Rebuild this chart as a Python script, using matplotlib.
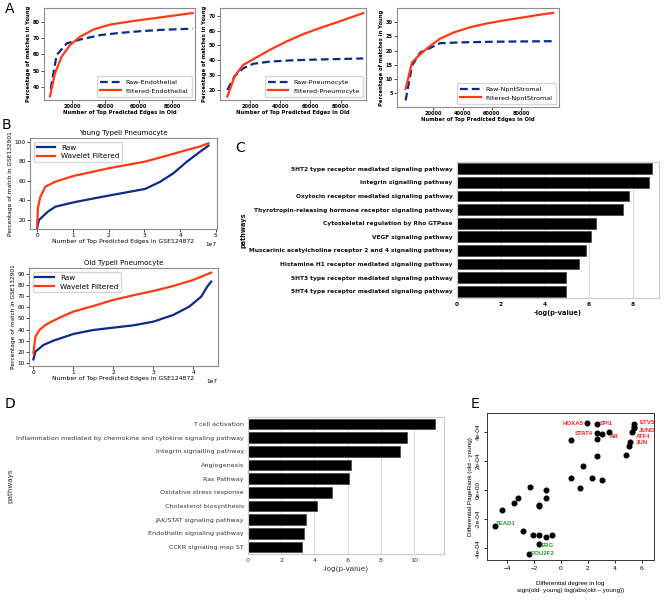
import matplotlib
matplotlib.use('Agg')
import matplotlib.pyplot as plt

# ---------- data ----------
# A: percentage of matches in young vs number of top predicted edges in old
endo_raw_x = [7200, 10800, 16800, 24800, 36800, 48800, 60800, 72800, 92400]
endo_raw_y = [38.8, 59.7, 66.8, 69.2, 71.9, 73.3, 74.3, 75.1, 75.9]
endo_filt_x = [6800, 9800, 13800, 18800, 24800, 32800, 42800, 56800, 72800, 92400]
endo_filt_y = [34.3, 48.5, 58.7, 65.8, 70.9, 75.3, 78.4, 80.6, 82.8, 85.5]

pneu_raw_x = [5000, 10000, 15600, 22200, 33200, 48700, 66300, 95000]
pneu_raw_y = [20.0, 29.5, 34.6, 37.6, 39.1, 40.0, 40.5, 41.2]
pneu_filt_x = [5000, 10000, 15600, 22200, 33200, 44300, 55300, 66300, 77400, 95000]
pneu_filt_y = [15.5, 29.5, 36.9, 40.7, 47.0, 52.7, 57.6, 61.7, 65.5, 71.8]

strom_raw_x = [900, 5300, 10900, 17700, 24500, 40000, 60000, 80000, 102000]
strom_raw_y = [2.4, 14.7, 19.3, 20.9, 22.6, 22.9, 23.1, 23.2, 23.3]
strom_filt_x = [900, 5300, 10900, 17700, 24500, 33500, 45000, 56000, 68000, 79000, 90000, 102000]
strom_filt_y = [6.5, 15.8, 18.7, 21.6, 24.2, 26.3, 28.2, 29.5, 30.6, 31.5, 32.4, 33.3]

# B: percentage of match in GSE132901 (x in units of 1e7 edges)
young_raw_x = [0, 0.05, 0.3, 0.51, 1.02, 1.58, 2.0, 2.51, 3.02, 3.44, 3.81, 4.19, 4.56, 4.79]
young_raw_y = [12, 20, 28.5, 33.6, 38, 42, 44.9, 48.3, 51.7, 59, 67.7, 79.6, 89.8, 95.9]
young_filt_x = [0, 0.02, 0.09, 0.23, 0.51, 1.02, 1.58, 2.0, 2.51, 3.02, 3.63, 4.19, 4.51, 4.79]
young_filt_y = [13, 32, 43.8, 54, 59.1, 65, 69.4, 72.8, 76.2, 79.6, 85.7, 91.5, 94.5, 98.3]

old_raw_x = [0, 0.05, 0.25, 0.5, 1.0, 1.5, 2.0, 2.5, 3.0, 3.5, 3.9, 4.2, 4.35, 4.45]
old_raw_y = [13, 20, 26, 29.9, 36, 39.6, 41.7, 43.8, 47.1, 53.2, 60.7, 69.8, 78.8, 83.4]
old_filt_x = [0, 0.05, 0.15, 0.3, 0.5, 0.75, 1.0, 1.5, 2.0, 2.5, 3.0, 3.5, 4.0, 4.45]
old_filt_y = [18.5, 33.5, 39.6, 44.1, 48, 52.3, 56.2, 61.3, 66.8, 71, 74.9, 79.4, 84.9, 91.5]

# C: pathways (top to bottom)
c_paths = ['5HT2 type receptor mediated signaling pathway',
           'Integrin signalling pathway',
           'Oxytocin receptor mediated signaling pathway',
           'Thyrotropin-releasing hormone receptor signaling pathway',
           'Cytoskeletal regulation by Rho GTPase',
           'VEGF signaling pathway',
           'Muscarinic acetylcholine receptor 2 and 4 signaling pathway',
           'Histamine H1 receptor mediated signaling pathway',
           '5HT3 type receptor mediated signaling pathway',
           '5HT4 type receptor mediated signaling pathway']
c_vals = [8.9, 8.74, 7.83, 7.56, 6.32, 6.09, 5.89, 5.56, 4.98, 4.98]

# D: pathways (top to bottom)
d_paths = ['T cell activation',
           'Inflammation mediated by chemokine and cytokine signaling pathway',
           'Integrin signalling pathway',
           'Angiogenesis',
           'Ras Pathway',
           'Oxidative stress response',
           'Cholesterol biosynthesis',
           'JAK/STAT signaling pathway',
           'Endothelin signaling pathway',
           'CCKR signaling map ST']
d_vals = [11.26, 9.6, 9.16, 6.19, 6.1, 5.08, 4.18, 3.48, 3.4, 3.28]

# E: differential degree vs differential PageRank
e_deg = [-4.89, -4.35, -3.46, -3.21, -2.27, -1.60, -1.60, -1.09, -1.09, -2.79,
         -2.10, -1.60, -1.09, -0.69, -1.60, -2.40, 0.72, 0.72, 1.63, 1.41,
         2.32, 3.01, 1.95, 2.64, 2.67, 3.01, 2.64, 2.64, 3.58, 4.81,
         5.06, 5.14, 5.26, 5.43, 5.43, 5.43]
e_pr = [-2.47, -1.37, -0.91, -0.53, 0.23, -1.03, -1.10, 0.0, -0.55, -2.81,
        -3.09, -3.09, -3.20, -3.09, -3.70, -4.41, 3.45, 0.80, 1.67, 0.16,
        0.85, 0.69, 4.62, 4.53, 3.89, 3.82, 3.52, 2.33, 4.00, 2.38,
        3.04, 3.31, 3.95, 4.53, 4.34, 4.27]  # x 1e-4
e_red_names = ['HOXA5', 'SPI1', 'STAT4', 'AR', 'ETV5', 'JUND', 'ATF4', 'JUN']
e_red_x = [1.65, 2.89, 2.40, 3.63, 5.80, 5.80, 5.56, 5.56]
e_red_y = [4.55, 4.55, 3.89, 3.66, 4.62, 4.11, 3.66, 3.25]
e_red_ha = ['right', 'left', 'right', 'left', 'left', 'left', 'left', 'left']
e_green_names = ['TEAD1', 'ERG', 'POU2F2']
e_green_x = [-4.84, -1.51, -2.22]
e_green_y = [-2.29, -3.82, -4.34]

navy = '#0c2a8c'
red = '#ff3a12'

W, H = 666, 601
fig = plt.figure(figsize=(W / 100, H / 100), dpi=100)


def box(l, t, r, b):
    return fig.add_axes([l / W, 1 - b / H, (r - l) / W, (b - t) / H])


def frame(ax, color='#8c8c8c'):
    for s in ax.spines.values():
        s.set_color(color)
        s.set_linewidth(0.8)


# ---------- A ----------
a_sets = [
    ((44, 8, 195, 100), endo_raw_x, endo_raw_y, endo_filt_x, endo_filt_y,
     'Endothelial', (3200, 93800), (32, 88.6), [40, 50, 60, 70, 80]),
    ((220, 8, 366, 100), pneu_raw_x, pneu_raw_y, pneu_filt_x, pneu_filt_y,
     'Pneumocyte', (150, 96800), (13.2, 75.2), [20, 30, 40, 50, 60, 70]),
    ((397, 8, 559, 107), strom_raw_x, strom_raw_y, strom_filt_x, strom_filt_y,
     'NpntStromal', (-5000, 106000), (0.1, 35), [5, 10, 15, 20, 25, 30]),
]
for pos, rx, ry, fx, fy, name, xl, yl, yt in a_sets:
    ax = box(*pos)
    ax.plot(rx, ry, color=navy, lw=1.6, ls=(0, (3.5, 1.8)), label='Raw-' + name)
    ax.plot(fx, fy, color=red, lw=1.6, label='Filtered-' + name)
    ax.set_xlim(*xl)
    ax.set_ylim(*yl)
    ax.set_xticks([20000, 40000, 60000, 80000])
    ax.set_yticks(yt)
    ax.tick_params(labelsize=3.6, length=2, width=0.5, pad=1)
    for t in ax.get_xticklabels() + ax.get_yticklabels():
        t.set_fontweight('bold')
    ax.set_xlabel('Number of Top Predicted Edges in Old', fontsize=3.8,
                  fontweight='bold', labelpad=0.5)
    ax.set_ylabel('Percentage of matches in Young', fontsize=3.8,
                  fontweight='bold', labelpad=1)
    ax.legend(loc='lower right', fontsize=4.6, handlelength=3.2,
              borderpad=0.5, labelspacing=0.5, frameon=True, fancybox=True,
              edgecolor='#cccccc')
    frame(ax)

# ---------- B ----------
b_sets = [
    ((30, 138, 217, 229), young_raw_x, young_raw_y, young_filt_x, young_filt_y,
     'Young TypeII Pneumocyte', (-0.2e7, 5.03e7), (10.8, 103.7),
     [20, 40, 60, 80, 100], [0, 1e7, 2e7, 3e7, 4e7, 5e7]),
    ((29, 268, 218, 366), old_raw_x, old_raw_y, old_filt_x, old_filt_y,
     'Old TypeII Pneumocyte', (-0.11e7, 4.62e7), (7, 95.7),
     [10, 20, 30, 40, 50, 60, 70, 80, 90], [0, 1e7, 2e7, 3e7, 4e7]),
]
for pos, rx, ry, fx, fy, title, xl, yl, yt, xt in b_sets:
    ax = box(*pos)
    ax.plot([v * 1e7 for v in rx], ry, color=navy, lw=1.6, label='Raw')
    ax.plot([v * 1e7 for v in fx], fy, color=red, lw=1.6, label='Wavelet Filtered')
    ax.set_xlim(*xl)
    ax.set_ylim(*yl)
    ax.set_xticks(xt)
    ax.set_yticks(yt)
    ax.tick_params(labelsize=4.2, length=2, width=0.5, pad=1)
    ax.xaxis.get_offset_text().set_fontsize(4.2)
    ax.set_title(title, fontsize=5, pad=2)
    ax.set_xlabel('Number of Top Predicted Edges in GSE124872', fontsize=4.4, labelpad=0.5)
    ax.set_ylabel('Percentage of match in GSE132901', fontsize=4.2, labelpad=1)
    ax.legend(loc='upper left', fontsize=5.2, handlelength=2.6,
              borderpad=0.4, labelspacing=0.4, edgecolor='#cccccc')
    frame(ax)


# ---------- C / D ----------
def pathway_panel(pos, names, vals, xmax, xt, weight, color, size):
    ax = box(*pos)
    ypos = list(range(len(names)))
    ax.barh(ypos, vals, height=0.78, color='black', edgecolor='#444444', lw=0.5)
    ax.set_yticks(ypos)
    ax.set_yticklabels(names, fontsize=size, fontweight=weight, color=color)
    ax.set_ylim(len(names) - 0.5, -0.5)
    ax.set_xlim(0, xmax)
    ax.set_xticks(xt)
    ax.tick_params(length=0, pad=3, labelsize=size, labelcolor=color)
    ax.grid(axis='x', color='#dddddd', lw=0.8)
    ax.set_axisbelow(True)
    ax.set_xlabel('-log(p-value)', fontsize=size + 0.6, color=color, labelpad=2)
    ax.set_ylabel('pathways', fontsize=size + 0.6, color=color, labelpad=2)
    for s in ax.spines.values():
        s.set_color('#cccccc')
        s.set_linewidth(0.9)
    return ax


ax_c = pathway_panel((457, 162, 659, 298), c_paths, c_vals, 9.2, [0, 2, 4, 6, 8],
                     'bold', '#111111', 4.2)
for t in ax_c.get_xticklabels():
    t.set_fontweight('bold')
ax_c.xaxis.label.set_fontweight('bold')
ax_c.yaxis.label.set_fontweight('bold')

pathway_panel((248, 417, 444, 554), d_paths, d_vals, 11.8, [0, 2, 4, 6, 8, 10],
              'normal', '#333333', 4.6)

# ---------- E ----------
ax = box(487, 413, 654, 560)
ax.scatter(e_deg, [v * 1e-4 for v in e_pr], s=11, color='black', zorder=3)
for n, x, y, ha in zip(e_red_names, e_red_x, e_red_y, e_red_ha):
    ax.text(x, y * 1e-4, n, color='#ff2020', fontsize=4.4, fontweight='bold',
            ha=ha, va='center', family='Liberation Sans')
for n, x, y in zip(e_green_names, e_green_x, e_green_y):
    ax.text(x, y * 1e-4, n, color='#2a9a2a', fontsize=4.4, fontweight='bold',
            ha='left', va='center', family='Liberation Sans')
ax.set_xlim(-5.48, 6.9)
ax.set_ylim(-4.8e-4, 5.28e-4)
ax.set_xticks([-4, -2, 0, 2, 4, 6])
ax.set_yticks([-4e-4, -2e-4, 0, 2e-4, 4e-4])
ax.set_yticklabels(['-4e-04', '-2e-04', '0e+00', '2e-04', '4e-04'],
                   rotation=90, va='center')
ax.tick_params(labelsize=4.6, length=2.5, width=0.6, pad=2)
for t in ax.get_xticklabels() + ax.get_yticklabels():
    t.set_family('Liberation Sans')
ax.set_ylabel('Differential PageRank (old - young)', fontsize=4.6,
              family='Liberation Sans', labelpad=2)
ax.set_xlabel('Differential degree in log\nsign(old- young) log(abs(old \u2013 young))',
              fontsize=4.6, family='Liberation Sans', labelpad=7, linespacing=1.6)
for s in ax.spines.values():
    s.set_color('#333333')
    s.set_linewidth(0.7)

# ---------- panel letters ----------
for letter, x, y in [('A', 10, 9), ('B', 6, 125), ('C', 240, 148), ('D', 10, 404),
                     ('E', 475, 404)]:
    fig.text(x / W, 1 - y / H, letter, fontsize=10, ha='center', va='center')

fig.savefig('out.png', dpi=100)
